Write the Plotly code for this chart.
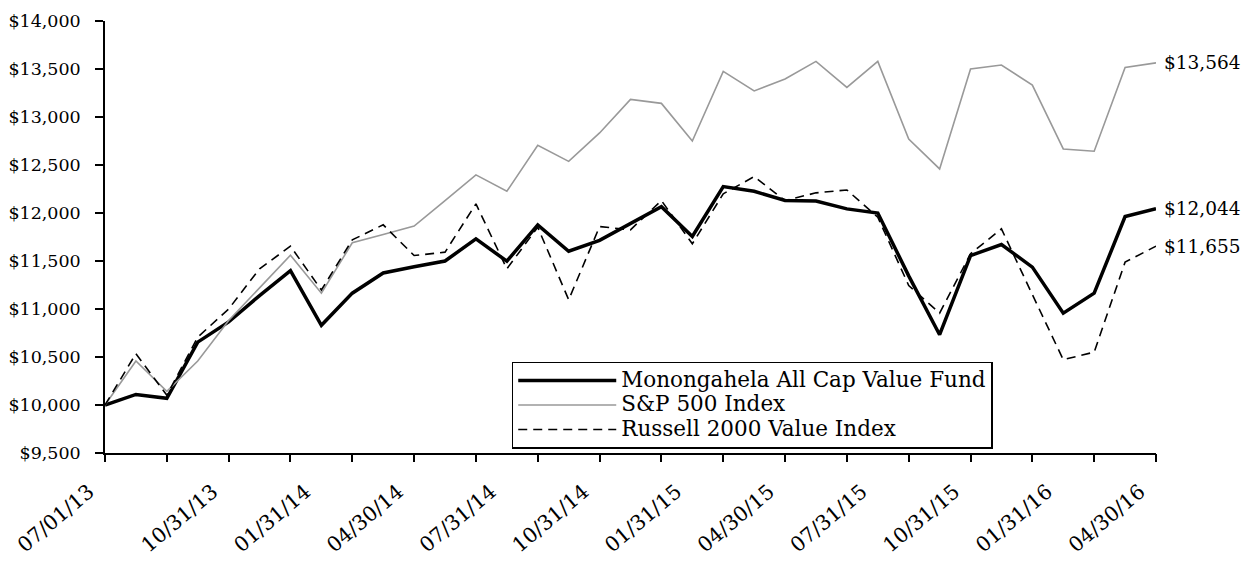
import plotly.graph_objects as go

dates = ["07/01/13", "07/31/13", "08/31/13", "09/30/13", "10/31/13", "11/30/13", "12/31/13",
         "01/31/14", "02/28/14", "03/31/14", "04/30/14", "05/31/14", "06/30/14", "07/31/14",
         "08/31/14", "09/30/14", "10/31/14", "11/30/14", "12/31/14", "01/31/15", "02/28/15",
         "03/31/15", "04/30/15", "05/31/15", "06/30/15", "07/31/15", "08/31/15", "09/30/15",
         "10/31/15", "11/30/15", "12/31/15", "01/31/16", "02/29/16", "03/31/16", "04/30/16"]

monongahela = [10000, 10110, 10070, 10655, 10865, 11140, 11400, 10830, 11165, 11375, 11440,
               11500, 11730, 11498, 11876, 11602, 11715, 11895, 12065, 11755, 12275, 12226,
               12130, 12125, 12043, 12000, 11345, 10732, 11557, 11672, 11436, 10957, 11165,
               11963, 12044]

sp500 = [10000, 10458, 10143, 10458, 10880, 11220, 11560, 11165, 11690, 11777, 11864,
         12130, 12397, 12226, 12705, 12538, 12834, 13183, 13142, 12750, 13475, 13271,
         13396, 13579, 13308, 13579, 12771, 12459, 13500, 13541, 13333, 12667, 12643,
         13516, 13564]

russell = [10000, 10535, 10101, 10707, 11000, 11419, 11654, 11198, 11720, 11877, 11557,
           11592, 12095, 11419, 11852, 11096, 11859, 11825, 12130, 11679, 12200, 12379,
           12130, 12210, 12240, 11956, 11245, 10957, 11575, 11835, 11150, 10472, 10551,
           11488, 11655]

label_dates = ["07/01/13", "10/31/13", "01/31/14", "04/30/14", "07/31/14", "10/31/14",
               "01/31/15", "04/30/15", "07/31/15", "10/31/15", "01/31/16", "04/30/16"]

series_names = ["Monongahela All Cap Value Fund", "S&P 500 Index", "Russell 2000 Value Index"]

FONT = "DejaVu Serif"
idx = list(range(len(dates)))


def legend_name(n):
    return f'<span style="font-size:21.5px">{n}</span>'


fig = go.Figure()
fig.add_trace(go.Scatter(x=idx, y=monongahela, mode="lines", name=legend_name(series_names[0]),
                         line=dict(color="black", width=3.5), customdata=dates))
fig.add_trace(go.Scatter(x=idx, y=sp500, mode="lines", name=legend_name(series_names[1]),
                         line=dict(color="#999999", width=1.6), customdata=dates))
fig.add_trace(go.Scatter(x=idx, y=russell, mode="lines", name=legend_name(series_names[2]),
                         line=dict(color="black", width=1.6, dash="9px,6px"), customdata=dates))

# invisible trace to activate the overlay axis carrying tick marks
fig.add_trace(go.Scatter(x=[idx[0], idx[-1]], y=[monongahela[0], monongahela[0]], xaxis="x2",
                         mode="lines", line=dict(width=0), showlegend=False, hoverinfo="skip"))

for series in (sp500, monongahela, russell):
    v = series[-1]
    fig.add_annotation(x=idx[-1], y=v, text=f"${v:,.0f}", showarrow=False,
                       xanchor="left", yanchor="middle", xshift=6,
                       font=dict(family=FONT, size=18.5, color="black"))

label_idx = [dates.index(d) for d in label_dates]

fig.update_layout(
    width=1252, height=561,
    margin=dict(l=105, r=96, t=21, b=108),
    paper_bgcolor="white", plot_bgcolor="white",
    font=dict(family=FONT, color="black"),
    showlegend=True,
    legend=dict(x=0.387, y=0.211, xanchor="left", yanchor="top",
                bordercolor="black", borderwidth=1.5, bgcolor="white",
                font=dict(family=FONT, size=16.5, color="black"),
                itemwidth=98, tracegroupgap=0),
    xaxis=dict(range=[idx[0], idx[-1]], tickvals=label_idx, ticktext=label_dates,
               tickangle=-40, ticks="outside", ticklen=8, tickcolor="rgba(0,0,0,0)",
               ticklabelstandoff=9, ticklabelshift=-16, automargin=False,
               showline=True, linecolor="black", linewidth=1.5, showgrid=False, zeroline=False,
               tickfont=dict(family=FONT, size=20.5, color="black")),
    xaxis2=dict(range=[idx[0], idx[-1]], overlaying="x", anchor="y", side="bottom",
                tickvals=list(range(0, len(dates), 2)), ticks="outside", ticklen=8,
                tickwidth=1.5, tickcolor="black", showticklabels=False, showline=False,
                showgrid=False, zeroline=False, automargin=False),
    yaxis=dict(range=[9500, 14000], dtick=500, tickformat="$,.0f", ticks="outside",
               ticklen=8, tickwidth=1.5, tickcolor="black", showline=True, linecolor="black",
               linewidth=1.5, showgrid=False, zeroline=False, ticklabelstandoff=11,
               automargin=False,
               tickfont=dict(family=FONT, size=17.5, color="black")),
)

fig.write_html("out.html", config={"displayModeBar": False},
               post_script="document.body.style.margin='0';")
